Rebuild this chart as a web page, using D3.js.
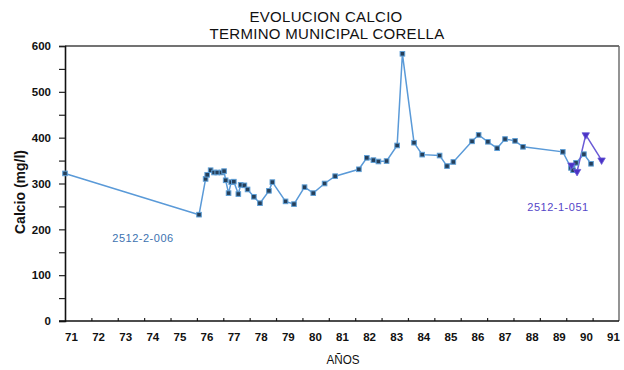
<!DOCTYPE html>
<html>
<head>
<meta charset="utf-8">
<script src="https://cdn.jsdelivr.net/npm/d3@7"></script>
<style>
  body { margin: 0; background: #fff; }
  svg { display: block; }
  text { font-family: "Liberation Sans", Arial, sans-serif; }
</style>
</head>
<body>
<svg id="chart" width="624" height="370"></svg>
<script>
// ---- data ----
const titleLines = ["EVOLUCION  CALCIO", "TERMINO  MUNICIPAL  CORELLA"];
const yTicks = [0, 100, 200, 300, 400, 500, 600];
const xYears = [1971,1972,1973,1974,1975,1976,1977,1978,1979,1980,1981,1982,1983,1984,1985,1986,1987,1988,1989,1990,1991];
const xLabels = ["71","72","73","74","75","76","77","78","79","80","81","82","83","84","85","86","87","88","89","90","91"];

const seriesA_name = "2512-2-006";
const seriesA_years = [1971.0,1976.08,1976.33,1976.39,1976.52,1976.65,1976.77,1976.93,1977.03,1977.09,1977.2,1977.3,1977.4,1977.57,1977.66,1977.8,1977.92,1978.16,1978.39,1978.73,1978.86,1979.36,1979.68,1980.08,1980.41,1980.84,1981.24,1982.14,1982.44,1982.69,1982.88,1983.19,1983.59,1983.79,1984.23,1984.54,1985.2,1985.48,1985.72,1986.43,1986.68,1987.03,1987.38,1987.68,1988.06,1988.36,1989.87,1990.18,1990.26,1990.37,1990.67,1990.94];
const seriesA_values = [322,232,310,319,329,324,324,324,327,307,279,303,304,277,297,296,287,271,257,284,303,261,255,292,279,300,316,331,356,351,348,349,383,583,389,363,361,338,347,392,406,391,377,397,393,380,369,334,329,345,364,343];

const seriesB_name = "2512-1-051";
const seriesB_years = [1990.2,1990.41,1990.74,1991.34];
const seriesB_values = [340,326,406,351];

// ---- layout ----
const svg = d3.select("#chart");
const x = d3.scaleLinear().domain([1971, 1992]).range([65, 619]);
const xLab = d3.scaleLinear().domain([1971, 1991]).range([71, 613]);
const y = d3.scaleLinear().domain([0, 600]).range([321, 46]);

// frame (top and right)
svg.append("line").attr("x1", x(1971)).attr("x2", x(1992)).attr("y1", y(600)).attr("y2", y(600))
  .attr("stroke", "#444").attr("stroke-width", 1.4);
svg.append("line").attr("x1", x(1992)).attr("x2", x(1992)).attr("y1", y(600)).attr("y2", y(0))
  .attr("stroke", "#666").attr("stroke-width", 1.4);

// y axis
const yAxis = svg.append("g").attr("transform", `translate(${x(1971)},0)`)
  .call(d3.axisLeft(y).tickValues(d3.range(0, 601, 50)).tickSize(6).tickPadding(8)
    .tickFormat(d => yTicks.includes(d) ? d : ""));
yAxis.select(".domain").attr("stroke", "#111").attr("stroke-width", 1.6);
yAxis.selectAll(".tick line").attr("stroke", "#222").attr("stroke-width", 1.2);
yAxis.selectAll(".tick text").attr("font-size", 11.5).attr("font-weight", "bold")
  .attr("fill", "#111").style("font-family", "'Liberation Sans', Arial, sans-serif");

// x axis ticks (inside)
const xAxis = svg.append("g").attr("transform", `translate(0,${y(0)})`)
  .call(d3.axisBottom(x).tickValues(xYears.slice(1)).tickSize(-3).tickFormat(""));
xAxis.select(".domain").remove();
svg.append("line").attr("x1", x(1971) - 6).attr("x2", x(1992)).attr("y1", y(0)).attr("y2", y(0))
  .attr("stroke", "#111").attr("stroke-width", 1.6);
xAxis.selectAll(".tick line").attr("stroke", "#222").attr("stroke-width", 1.2);

// x labels (own scale as in the original plot)
const xLabAxis = svg.append("g").attr("transform", `translate(0,${y(0)})`)
  .call(d3.axisBottom(xLab).tickValues(xYears).tickSize(0).tickPadding(12)
    .tickFormat((d, i) => xLabels[i]));
xLabAxis.select(".domain").remove();
xLabAxis.selectAll(".tick text").attr("font-size", 11.5).attr("font-weight", "bold")
  .attr("fill", "#111").style("font-family", "'Liberation Sans', Arial, sans-serif");

// titles
svg.append("text").attr("transform", "translate(326,22)").attr("text-anchor", "middle")
  .attr("font-size", 15).attr("letter-spacing", 0.3).attr("fill", "#111").text(titleLines[0]);
svg.append("text").attr("transform", "translate(327,39)").attr("text-anchor", "middle")
  .attr("font-size", 15).attr("letter-spacing", 0.3).attr("fill", "#111").text(titleLines[1]);

// axis titles
svg.append("text").attr("transform", "translate(25,192) rotate(-90)").attr("text-anchor", "middle")
  .attr("font-size", 14).attr("font-weight", "bold").attr("fill", "#111")
  .text("Calcio  (mg/l)");
svg.append("text").attr("transform", "translate(343,364) scale(0.9,1)").attr("text-anchor", "middle")
  .attr("font-size", 13).attr("fill", "#111").text("AÑOS");

// series
const dataA = seriesA_years.map((yr, i) => ({ yr, v: seriesA_values[i] }));
const dataB = seriesB_years.map((yr, i) => ({ yr, v: seriesB_values[i] }));
const line = d3.line().x(d => x(d.yr)).y(d => y(d.v));

svg.append("path").datum(dataA).attr("d", line).attr("fill", "none")
  .attr("stroke", "#5a9ad8").attr("stroke-width", 1.5);
svg.append("path").datum(dataB).attr("d", line).attr("fill", "none")
  .attr("stroke", "#6a5ad6").attr("stroke-width", 1.5);

svg.selectAll(".mA").data(dataA).enter().append("rect")
  .attr("x", d => x(d.yr) - 2.3).attr("y", d => y(d.v) - 2.3).attr("width", 4.6).attr("height", 4.6)
  .attr("fill", "#253f5a").attr("stroke", "#5f9fd6").attr("stroke-width", 1);

svg.selectAll(".mB").data(dataB).enter().append("path")
  .attr("transform", d => `translate(${x(d.yr)},${y(d.v)}) rotate(180)`)
  .attr("d", d3.symbol(d3.symbolTriangle, 24))
  .attr("fill", "#4a32c6").attr("stroke", "#6a5ad6").attr("stroke-width", 0.8);

// series labels
svg.append("text").attr("x", 143).attr("y", 242).attr("text-anchor", "middle")
  .attr("font-size", 11).attr("fill", "#3c72b0").attr("letter-spacing", 0.5)
  .text(seriesA_name);
svg.append("text").attr("x", 558).attr("y", 211).attr("text-anchor", "middle")
  .attr("font-size", 11).attr("fill", "#5546c8").attr("letter-spacing", 0.5)
  .text(seriesB_name);
</script>
</body>
</html>
